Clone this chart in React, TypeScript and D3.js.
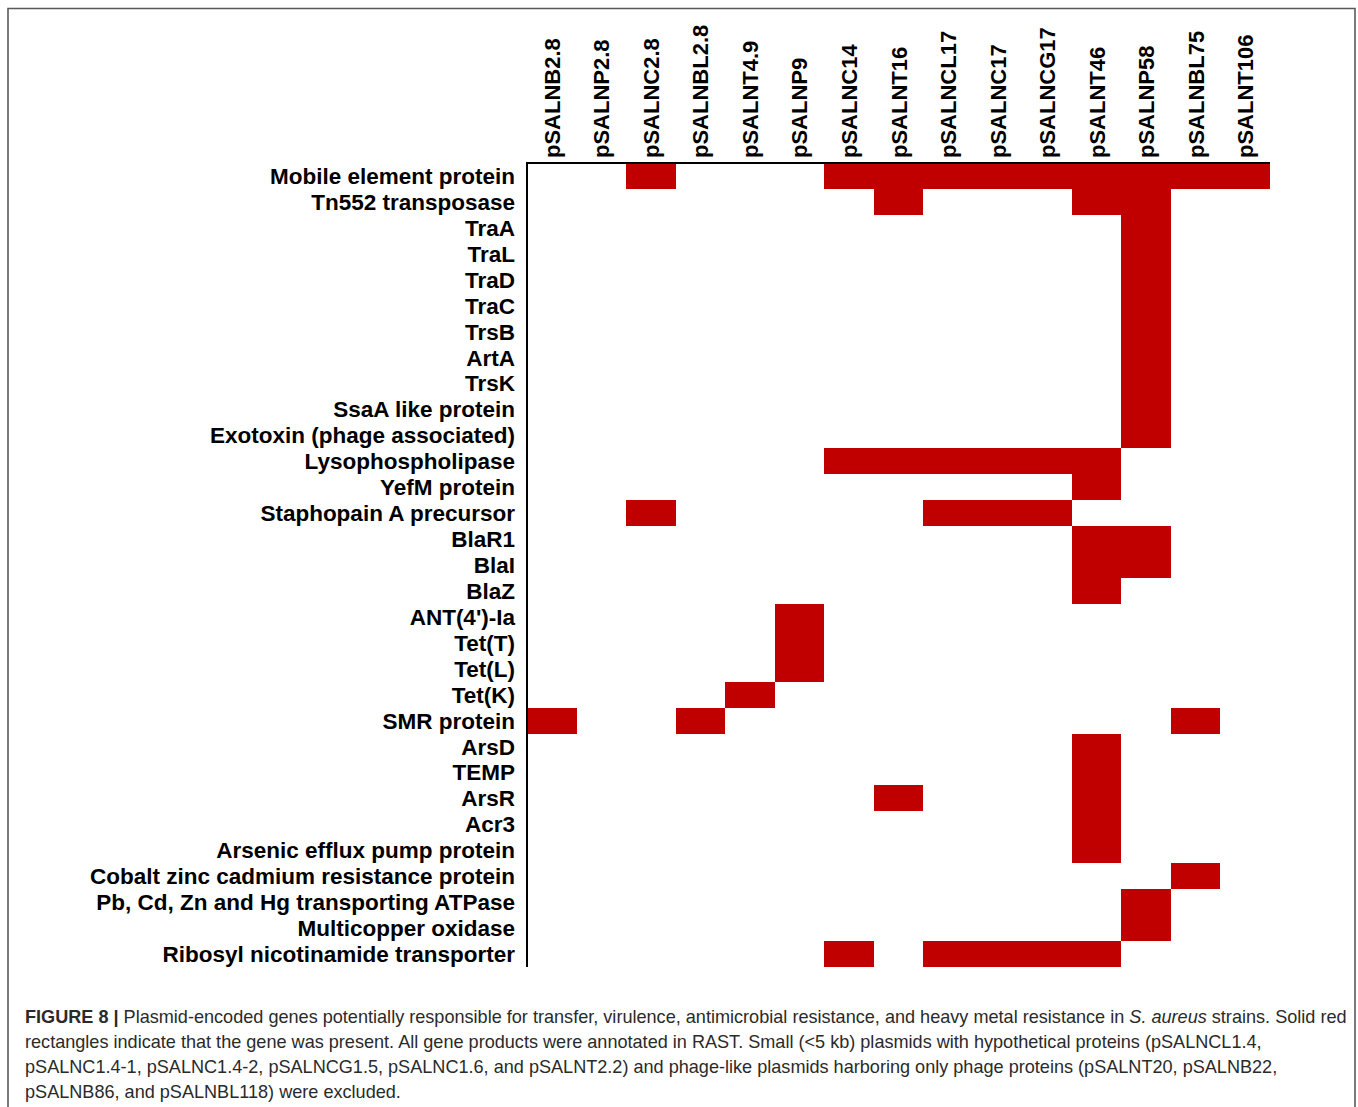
import React from "react";
import * as d3 from "d3";

const plasmids = [
  "pSALNB2.8", "pSALNP2.8", "pSALNC2.8", "pSALNBL2.8", "pSALNT4.9", "pSALNP9",
  "pSALNC14", "pSALNT16", "pSALNCL17", "pSALNC17", "pSALNCG17", "pSALNT46",
  "pSALNP58", "pSALNBL75", "pSALNT106",
];

const genes = [
  "Mobile element protein", "Tn552 transposase", "TraA", "TraL", "TraD", "TraC",
  "TrsB", "ArtA", "TrsK", "SsaA like protein", "Exotoxin (phage associated)",
  "Lysophospholipase", "YefM protein", "Staphopain A precursor", "BlaR1", "BlaI",
  "BlaZ", "ANT(4')-Ia", "Tet(T)", "Tet(L)", "Tet(K)", "SMR protein", "ArsD", "TEMP",
  "ArsR", "Acr3", "Arsenic efflux pump protein", "Cobalt zinc cadmium resistance protein",
  "Pb, Cd, Zn and Hg transporting ATPase", "Multicopper oxidase",
  "Ribosyl nicotinamide transporter",
];

// 1 = gene present in plasmid (columns in plasmid order)
const presence = [
  "001000111111111",
  "000000010001100",
  "000000000000100",
  "000000000000100",
  "000000000000100",
  "000000000000100",
  "000000000000100",
  "000000000000100",
  "000000000000100",
  "000000000000100",
  "000000000000100",
  "000000111111000",
  "000000000001000",
  "001000001110000",
  "000000000001100",
  "000000000001100",
  "000000000001000",
  "000001000000000",
  "000001000000000",
  "000001000000000",
  "000010000000000",
  "100100000000010",
  "000000000001000",
  "000000000001000",
  "000000010001000",
  "000000000001000",
  "000000000001000",
  "000000000000010",
  "000000000000100",
  "000000000000100",
  "000000101111000",
];

const captionLines = [
  "rectangles indicate that the gene was present. All gene products were annotated in RAST. Small (<5 kb) plasmids with hypothetical proteins (pSALNCL1.4,",
  "pSALNC1.4-1, pSALNC1.4-2, pSALNCG1.5, pSALNC1.6, and pSALNT2.2) and phage-like plasmids harboring only phage proteins (pSALNT20, pSALNB22,",
  "pSALNB86, and pSALNBL118) were excluded.",
];

const W = 1358;
const H = 1107;
const LEFT = 527;
const RIGHT = 1270;
const TOP = 163;
const BOTTOM = 967;
const RED = "#c00000";
const FONT = "'Liberation Sans', Arial, sans-serif";

export default function App() {
  const x = d3.scaleBand<string>().domain(plasmids).range([LEFT, RIGHT]).padding(0);
  const y = d3.scaleBand<string>().domain(genes).range([TOP, BOTTOM]).padding(0);

  const cells: { g: string; p: string }[] = [];
  genes.forEach((g, i) => {
    presence[i].split("").forEach((c, j) => {
      if (c === "1") cells.push({ g, p: plasmids[j] });
    });
  });

  return (
    <svg
      width={W}
      height={H}
      viewBox={`0 0 ${W} ${H}`}
      style={{ position: "absolute", left: 0, top: 0, background: "#fff" }}
    >
      <rect x={0} y={0} width={W} height={H} fill="#fff" />
      {/* figure frame */}
      <path d={`M8,${H} L8,8.5 L1355,8.5 L1355,${H}`} fill="none" stroke="#5a5a5a" strokeWidth={1.6} />

      {/* cells */}
      <g shapeRendering="crispEdges">
        {cells.map((c, i) => (
          <rect
            key={i}
            x={x(c.p)!}
            y={y(c.g)!}
            width={x.bandwidth()}
            height={y.bandwidth()}
            fill={RED}
          />
        ))}
      </g>

      {/* axes */}
      <line x1={LEFT - 1} y1={TOP} x2={RIGHT} y2={TOP} stroke="#000" strokeWidth={2} />
      <line x1={LEFT} y1={TOP - 1} x2={LEFT} y2={BOTTOM} stroke="#000" strokeWidth={2} />

      {/* row labels */}
      <g fontFamily={FONT} fontWeight="bold" fontSize={22.5} fill="#000">
        {genes.map((g) => (
          <text key={g} x={515} y={y(g)! + y.bandwidth() / 2 + 8} textAnchor="end">
            {g}
          </text>
        ))}
      </g>

      {/* column labels */}
      <g fontFamily={FONT} fontWeight="bold" fontSize={22} fill="#000">
        {plasmids.map((p) => {
          const cx = x(p)! + x.bandwidth() / 2 + 8;
          const cy = TOP - 5;
          return (
            <text key={p} transform={`translate(${cx},${cy}) rotate(-90)`} textAnchor="start">
              {p}
            </text>
          );
        })}
      </g>

      {/* caption */}
      <g fontFamily={FONT} fontSize={18.1} fill="#2a2a2a">
        <text x={25} y={1023}>
          <tspan fontWeight="bold">FIGURE 8 | </tspan>
          <tspan>
            Plasmid-encoded genes potentially responsible for transfer, virulence, antimicrobial resistance, and heavy metal resistance in{" "}
          </tspan>
          <tspan fontStyle="italic">S. aureus</tspan>
          <tspan> strains. Solid red</tspan>
        </text>
        {captionLines.map((l, i) => (
          <text key={i} x={25} y={1048 + i * 25}>
            {l}
          </text>
        ))}
      </g>
    </svg>
  );
}
